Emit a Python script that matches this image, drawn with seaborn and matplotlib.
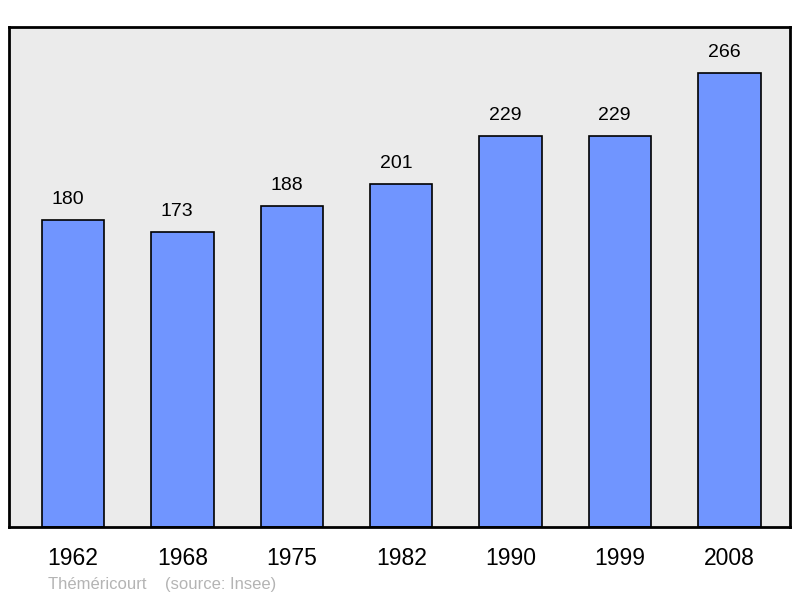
import matplotlib
matplotlib.use("Agg")
import matplotlib.pyplot as plt
import seaborn as sns
import pandas as pd

years = ["1962", "1968", "1975", "1982", "1990", "1999", "2008"]
population = [180, 173, 188, 201, 229, 229, 266]
town = "Théméricourt"
source = "(source: Insee)"

BAR_COLOR = "#7095FF"
BG_COLOR = "#EBEBEB"

sns.set_style("white")
plt.rcParams['font.family'] = ['Liberation Sans', 'DejaVu Sans']

df = pd.DataFrame({"year": years, "pop": population})

fig = plt.figure(figsize=(8, 5.98), dpi=100)
ax = fig.add_axes([0.01125, 0.1187, 0.97625, 0.8361])
ax.set_facecolor(BG_COLOR)

sns.barplot(data=df, x="year", y="pop", color=BAR_COLOR, width=0.57,
            edgecolor="black", linewidth=1.2, saturation=1, ax=ax)

# value labels, nudged a little to the left like the original
for i, v in enumerate(population):
    ax.annotate(str(v), (i, v), xytext=(-3.8, 8.5), textcoords="offset points",
                ha="center", va="bottom", fontsize=14, color="black")

ax.set_ylim(0, 293)
ax.set_xlim(-0.585, 6.554)
ax.set_yticks([])
ax.set_xlabel("")
ax.set_ylabel("")
ax.tick_params(axis="x", length=0, labelsize=16.5, pad=14.5, colors="black")
for s in ax.spines.values():
    s.set_visible(True)
    s.set_color("black")
    s.set_linewidth(2)

fig.text(48 / 800, 1 - 585 / 598, town + "    " + source, fontsize=12,
         color="#B4B4B4", ha="left", va="center")

plt.savefig("out.png", dpi=100)
plt.close()
